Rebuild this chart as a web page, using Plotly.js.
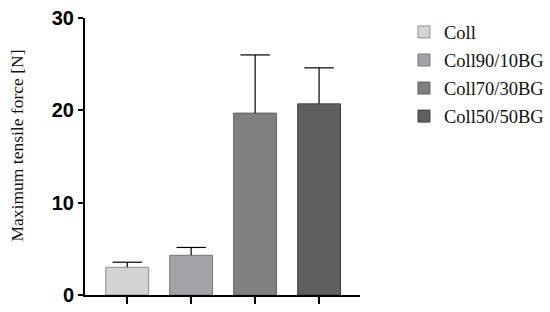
<!DOCTYPE html>
<html>
<head>
<meta charset="utf-8">
<script src="https://cdn.plot.ly/plotly-3.0.1.min.js"></script>
<style>
  html, body { margin: 0; padding: 0; background: #fff; }
  #chart { width: 550px; height: 312px; }
</style>
</head>
<body>
<div id="chart"></div>
<script>
let groups = ['Coll', 'Coll90/10BG', 'Coll70/30BG', 'Coll50/50BG'];
let forces = [3.0, 4.3, 19.7, 20.7];
let errors = [0.55, 0.85, 6.3, 3.9];
let fills = ['#d4d4d4', '#a3a2a7', '#808080', '#5f5f5f'];
let edges = ['#8e8e8e', '#77767b', '#606060', '#404040'];

let serif = 'Liberation Serif, Times New Roman, serif';

let bars = groups.map((g, i) => ({
  x: [i],
  y: [forces[i]],
  name: g,
  type: 'bar',
  width: 0.67,
  legendgroup: g,
  marker: { color: fills[i], line: { color: edges[i], width: 1 } },
  error_y: {
    type: 'data',
    symmetric: false,
    array: [errors[i]],
    arrayminus: [0],
    color: '#000',
    thickness: 1.2,
    width: 0
  }
}));

// caps on top of the error stems
let caps = {
  x: groups.map((g, i) => i),
  y: forces.map((v, i) => v + errors[i]),
  type: 'scatter',
  mode: 'markers',
  showlegend: false,
  marker: { symbol: 'line-ew', size: 21, line: { color: '#000', width: 1.2 } }
};

let layout = {
  width: 550,
  height: 312,
  margin: { l: 85, r: 190, t: 18, b: 17 },
  barmode: 'overlay',
  paper_bgcolor: '#fff',
  plot_bgcolor: '#fff',
  showlegend: true,
  legend: {
    xref: 'container', yref: 'container',
    x: 0.7345, y: 0.957, xanchor: 'left', yanchor: 'top',
    font: { family: serif, size: 18.5, color: '#111' },
    traceorder: 'grouped',
    tracegroupgap: 1
  },
  annotations: [{
    text: 'Maximum tensile force [N]',
    xref: 'paper', yref: 'paper',
    x: -0.247, y: 0.54,
    xanchor: 'center', yanchor: 'middle',
    textangle: -90,
    showarrow: false,
    font: { family: serif, size: 17.5, color: '#111' }
  }],
  xaxis: {
    range: [-0.66, 3.64],
    tickvals: [0, 1, 2, 3],
    showticklabels: false,
    ticks: 'outside',
    ticklen: 7,
    tickwidth: 2,
    tickcolor: '#000',
    showline: true,
    linecolor: '#000',
    linewidth: 2,
    showgrid: false,
    zeroline: false,
    fixedrange: true
  },
  yaxis: {
    range: [0, 30],
    tickvals: [0, 10, 20, 30],
    ticks: 'outside',
    ticklen: 5,
    tickwidth: 2,
    tickcolor: '#000',
    showline: true,
    linecolor: '#000',
    linewidth: 2,
    showgrid: false,
    zeroline: false,
    tickfont: { family: 'Liberation Sans, Arial, sans-serif', size: 20, color: '#000', weight: 'bold' }
  }
};

Plotly.newPlot('chart', bars.concat([caps]), layout, { displayModeBar: false, staticPlot: true });
</script>
</body>
</html>
